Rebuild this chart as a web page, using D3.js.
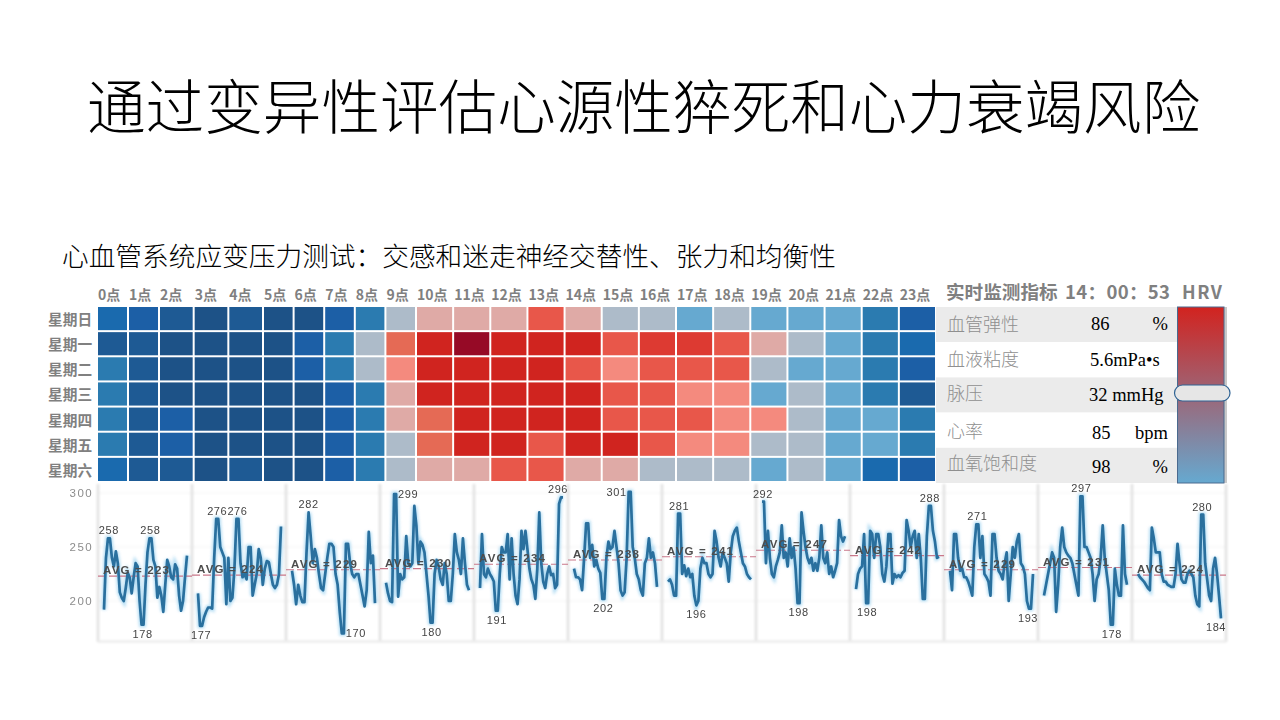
<!DOCTYPE html>
<html><head><meta charset="utf-8">
<script src="https://cdn.jsdelivr.net/npm/d3@7/dist/d3.min.js"></script>
<style>html,body{margin:0;padding:0;background:#fff}svg{display:block}
text{font-family:"Noto Sans CJK SC","Noto Sans",sans-serif}</style></head><body>
<svg id="c" width="1280" height="720"></svg>
<script>
const titleText="通过变异性评估心源性猝死和心力衰竭风险";
const subtitleText="心血管系统应变压力测试：交感和迷走神经交替性、张力和均衡性";
const hours=d3.range(24).map(h=>h+"点");
const days=["星期日","星期一","星期二","星期三","星期四","星期五","星期六"];
const palette=["#1d5287","#1e5a94","#1c5fa6","#1a6aae","#2b7bb0","#66a9d0","#adbbc9","#dfaaa6","#f48a7e","#e8574a","#dd3a32","#d0241f","#960a26","#e56a55"];
const heatSun=[3,2,1,0,1,0,0,2,4,6,7,7,7,9,7,6,6,5,6,5,5,5,4,2];
const heatMon=[1,1,0,0,0,0,2,4,6,13,11,12,11,11,11,9,10,10,9,7,6,5,4,3];
const heatTue=[4,1,0,0,0,0,2,4,6,8,11,11,11,11,9,8,9,9,9,6,5,5,4,2];
const heatWed=[4,1,0,0,0,0,0,2,4,7,11,11,11,11,11,9,9,8,8,5,6,5,4,1];
const heatThu=[4,1,2,0,0,0,0,2,4,7,13,11,11,11,11,9,9,9,8,8,6,5,5,4];
const heatFri=[4,1,2,0,0,0,0,2,4,6,13,11,11,9,11,11,9,8,8,6,6,5,5,4];
const heatSat=[3,1,1,0,1,0,0,2,4,6,7,7,9,9,7,7,6,6,6,5,6,5,3,2];
const heatRows=[heatSun,heatMon,heatTue,heatWed,heatThu,heatFri,heatSat];
const metricNames=["血管弹性","血液粘度","脉压","心率","血氧饱和度"];
const metricValues=["86","5.6mPa•s","32 mmHg","85","98"];
const metricUnits=["%","","","bpm","%"];
const avgs=[223,224,229,230,234,238,241,247,242,229,231,224];
const s1=[192,240,258,258,240,232,246,235,208,203,200,212,226,222,207,222,235,232,200,178,178,215,245,258,258,238,232,203,213,205,190,215,238,232,222,220,234,230,205,191,200,222,242];
const s2=[207,177,177,185,190,194,194,193,240,276,276,250,245,240,197,240,200,203,230,276,276,235,222,225,220,250,250,205,215,225,248,240,215,230,237,236,225,215,212,215,225,269];
const s3=[228,215,197,215,205,199,199,245,282,260,235,248,240,225,212,210,225,240,253,253,250,225,215,190,170,170,253,253,235,225,222,225,225,215,205,195,210,264,235,242,198];
const s4=[217,207,200,199,299,299,204,225,220,222,260,235,232,235,288,270,235,255,252,245,225,205,180,180,225,238,232,220,215,235,225,200,200,225,262,245,238,225,258,235,215,210];
const s5=[212,262,225,222,230,225,222,218,191,191,225,250,245,245,262,220,258,225,205,197,220,265,248,265,248,230,220,215,202,230,282,235,218,212,225,232,224,225,212,215,290,296,296];
const s6=[230,222,222,220,210,240,272,272,240,252,232,238,230,226,202,202,240,255,248,250,265,250,235,210,205,208,240,301,301,250,240,225,220,210,205,235,240,258,240,245,235,213];
const s7=[218,220,215,205,205,281,281,225,233,223,230,222,225,205,196,200,230,240,235,235,225,222,225,265,255,240,232,245,240,235,218,245,260,265,268,255,245,235,232,225,222,220];
const s8=[292,292,235,265,240,225,222,232,238,245,270,240,245,232,258,240,250,230,198,198,282,265,250,240,235,240,228,235,228,240,270,240,235,245,225,232,222,228,235,275,260,255,260];
const s9=[211,225,230,232,262,198,198,265,262,240,262,262,250,225,218,232,262,262,216,225,222,224,222,226,228,275,265,250,260,265,240,262,240,202,202,260,288,288,265,255,240,241];
const s10=[228,210,262,262,240,228,230,222,222,218,212,205,250,271,271,240,260,225,222,218,205,262,262,240,228,225,220,235,245,200,225,250,240,255,262,235,232,225,200,193,193,225];
const s11=[205,215,225,235,245,240,190,215,250,268,250,245,242,240,235,225,215,205,297,297,250,250,245,240,225,200,220,225,240,270,240,225,210,178,178,230,215,205,205,270,225,215];
const s12=[225,222,220,218,215,212,210,268,258,245,245,245,225,218,218,215,214,213,213,225,253,235,220,217,217,225,228,225,222,205,197,195,280,280,235,220,205,200,230,240,225,205,184];
const seriesList=[s1,s2,s3,s4,s5,s6,s7,s8,s9,s10,s11,s12];
const yTicks=[200,250,300];

const svg=d3.select("#c");
const defs=svg.append("defs");
const grad=defs.append("linearGradient").attr("id","hrv").attr("x1",0).attr("x2",0).attr("y1",0).attr("y2",1);
grad.append("stop").attr("offset","0%").attr("stop-color","#d2231f");
grad.append("stop").attr("offset","100%").attr("stop-color","#66a9d0");
defs.append("filter").attr("id","soft").attr("x","-5%").attr("y","-5%").attr("width","110%").attr("height","110%")
  .append("feGaussianBlur").attr("stdDeviation",0.5);
defs.append("filter").attr("id","soft2").attr("x","-5%").attr("y","-5%").attr("width","110%").attr("height","110%")
  .append("feGaussianBlur").attr("stdDeviation",1.6);
defs.append("filter").attr("id","soft3").attr("x","-1%").attr("y","-5%").attr("width","102%").attr("height","110%")
  .append("feGaussianBlur").attr("stdDeviation",0.8);

// titles
svg.append("text").attr("x",87).attr("y",128.5).attr("font-size",58.6).attr("font-weight",300).attr("fill","#000").text(titleText);
svg.append("text").attr("x",62).attr("y",266).attr("font-size",26.7).attr("font-weight",300).attr("fill","#000").text(subtitleText);

// heatmap
const colX=d3.scaleLinear().domain([0,2,5,10,24]).range([98,160,264,417,937]);
const rowY=d3.scaleLinear().domain([0,7]).range([307,483]);
const color=d3.scaleOrdinal().domain(d3.range(palette.length)).range(palette);
const heatCells=heatRows.flatMap((r,ri)=>r.map((v,ci)=>({ri,ci,v})));
svg.append("g").selectAll("rect").data(heatCells).join("rect")
  .attr("x",d=>colX(d.ci)).attr("y",d=>rowY(d.ri))
  .attr("width",d=>colX(d.ci+1)-colX(d.ci)-2).attr("height",d=>rowY(d.ri+1)-rowY(d.ri)-2)
  .attr("fill",d=>color(d.v));
svg.append("g").selectAll("text").data(hours).join("text")
  .attr("x",(d,i)=>colX(i)).attr("y",300).attr("font-size",14).attr("font-weight",700).attr("fill","#808080").text(d=>d);
svg.append("g").selectAll("text").data(days).join("text")
  .attr("x",48).attr("y",(d,i)=>rowY(i)+18).attr("font-size",14.7).attr("font-weight",700).attr("fill","#808080").text(d=>d);

// side table
const tableY=d3.scaleLinear().domain([0,5]).range([307,483]);
svg.append("g").selectAll("rect").data(metricNames).join("rect")
  .attr("x",936).attr("width",241).attr("y",(d,i)=>tableY(i)).attr("height",(d,i)=>tableY(i+1)-tableY(i))
  .attr("fill",(d,i)=>i%2?"#ffffff":"#ebebeb");
const labelDy=[24,59,93,131,163], valDy=[24,60,95,133,167];
svg.append("g").selectAll("text").data(metricNames).join("text")
  .attr("x",947).attr("y",(d,i)=>300+labelDy[i]+7).attr("font-size",18).attr("font-weight",300).attr("fill","#8f8f8f").text(d=>d);
const valX=[1091,1090,1089,1092,1092];
svg.append("g").selectAll("text").data(metricValues).join("text")
  .attr("x",(d,i)=>valX[i]).attr("y",(d,i)=>300+valDy[i]+6).attr("font-size",18.5)
  .style("font-family","'Liberation Serif',serif").attr("fill","#000").text(d=>d);
svg.append("g").selectAll("text").data(metricUnits).join("text")
  .attr("x",1168).attr("text-anchor","end").attr("y",(d,i)=>300+valDy[i]+6).attr("font-size",18.5)
  .style("font-family","'Liberation Serif',serif").attr("fill","#000").text(d=>d);
const hdr=svg.append("g").attr("font-weight",700).attr("fill","#808080");
hdr.append("text").attr("x",946).attr("y",299).attr("font-size",18.6).text("实时监测指标");
hdr.append("text").attr("x",1065).attr("y",299).attr("font-size",18.5).attr("textLength",105).text("14：00：53");
hdr.append("text").attr("x",1182).attr("y",299).attr("font-size",18).attr("textLength",40).text("HRV");

// HRV bar
svg.append("rect").attr("x",1224).attr("y",307).attr("width",3).attr("height",176).attr("fill","#c9c9c9");
svg.append("rect").attr("x",1177.5).attr("y",307).attr("width",46.5).attr("height",176).attr("fill","url(#hrv)").attr("stroke","#4a6a8f").attr("stroke-width",1);
svg.append("rect").attr("x",1174.5).attr("y",385).attr("width",55.5).attr("height",16).attr("rx",8).attr("fill","#e6e6e6").attr("stroke","#2f6394").attr("stroke-width",1.2);

// small multiples
const panelX=d3.scaleLinear().domain([0,12]).range([98,1226]);
const y=d3.scaleLinear().domain([200,300]).range([601,493]);
const chart=svg.append("g");
const frame=chart.append("g").attr("filter","url(#soft3)");
frame.selectAll(".grid").data(yTicks).join("line").attr("class","grid")
  .attr("x1",98).attr("x2",1226).attr("y1",d=>y(d)).attr("y2",d=>y(d)).attr("stroke","#f3f3f3").attr("stroke-width",1);
frame.selectAll(".sep").data(d3.range(13)).join("line").attr("class","sep")
  .attr("x1",d=>panelX(d)).attr("x2",d=>panelX(d)).attr("y1",484).attr("y2",642).attr("stroke","#e2e2e2").attr("stroke-width",2.6);
frame.append("line").attr("x1",98).attr("x2",1226).attr("y1",641.5).attr("y2",641.5).attr("stroke","#ececec").attr("stroke-width",2.5);
const axis=svg.append("g").attr("transform","translate(93,0)").attr("filter","url(#soft)")
  .call(d3.axisLeft(y).tickValues(yTicks).tickSize(0).tickPadding(0));
axis.select(".domain").remove();
axis.selectAll("text").attr("font-size",11.5).attr("fill","#8c8c8c").style("letter-spacing","1.4px").style("font-family","'Liberation Sans',sans-serif");

const line=d3.line();
// label placement per panel: which side of the extreme the number sits on
const maxSide=["up","up","up","right","up","left","up","up","up","up","up","up"];
const minSide=["down","down","right","down","down","down","down","down","down","down","down","down"];
seriesList.forEach((vals,k)=>{
  const px=d3.scaleLinear().domain([0,vals.length-1]).range([panelX(k)+6,panelX(k+1)-5]);
  const pts=vals.map((v,i)=>[px(i),y(v)]);
  const g=chart.append("g");
  g.append("path").attr("d",line(pts)).attr("fill","none").attr("stroke","#7cc3ea").attr("stroke-width",5).attr("opacity",.6).attr("filter","url(#soft2)");
  const sharp=g.append("g").attr("filter","url(#soft)");
  sharp.append("line").attr("x1",panelX(k)).attr("x2",panelX(k+1)).attr("y1",y(avgs[k])).attr("y2",y(avgs[k]))
    .attr("stroke","#c9788a").attr("stroke-width",1.1).attr("stroke-dasharray","8 3");
  sharp.append("path").attr("d",line(pts)).attr("fill","none").attr("stroke","#2a6f9e").attr("stroke-width",2.7).attr("stroke-linejoin","round");
  sharp.append("text").attr("x",panelX(k)+5).attr("y",y(avgs[k])-2).attr("font-size",11.5).attr("font-weight",700)
    .style("font-family","'Liberation Sans',sans-serif").style("letter-spacing","1.2px").attr("fill","#4d4d4d").text("AVG = "+avgs[k]);
  const mx=d3.max(vals), mn=d3.min(vals);
  const runs=(target)=>{const out=[];vals.forEach((v,i)=>{if(v===target&&vals[i-1]!==target){let j=i;while(vals[j+1]===target)j++;out.push((i+j)/2);}});return out;};
  const label=(idx,v,side)=>{
    const up=side==="up",down=side==="down",left=side==="left";
    const xp=up||down?Math.min(px(idx),panelX(k+1)-10):left?px(idx)-3:px(idx)+3;
    sharp.append("text").attr("x",xp)
      .attr("y",up?y(v)-4:down?y(v)+13:y(v)+4)
      .attr("text-anchor",up||down?"middle":left?"end":"start").attr("font-size",11)
      .style("font-family","'Liberation Sans',sans-serif").style("letter-spacing",".6px").attr("fill","#444").text(v);
  };
  runs(mx).forEach(i=>label(i,mx,maxSide[k]));
  runs(mn).forEach(i=>label(i,mn,minSide[k]));
});
</script></body></html>
